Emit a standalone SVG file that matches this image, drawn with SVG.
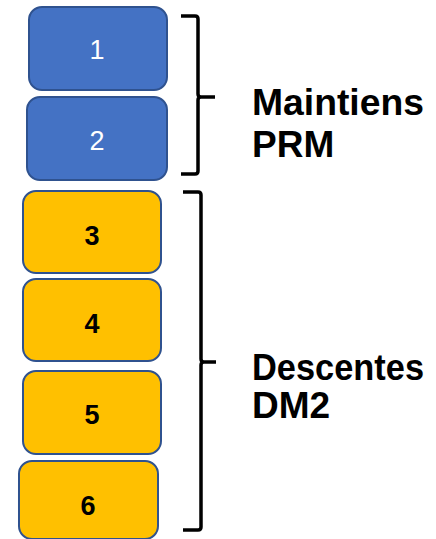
<svg xmlns="http://www.w3.org/2000/svg" width="436" height="539" viewBox="0 0 436 539">
<style>
.blue{fill:#4472C4;stroke:#2F528F;stroke-width:2}
.yel{fill:#FFC000;stroke:#2F528F;stroke-width:2}
.wt{font-family:"Liberation Sans",Arial,sans-serif;font-size:27px;fill:#fff;text-anchor:middle}
.bt{font-family:"Liberation Sans",Arial,sans-serif;font-size:27px;font-weight:bold;fill:#000;text-anchor:middle}
.lbl{font-family:"Liberation Sans",Arial,sans-serif;font-size:37px;font-weight:bold;fill:#000}
.brace{fill:none;stroke:#000;stroke-width:3.5;stroke-linejoin:round}
</style>
<rect width="436" height="539" fill="#fff"/>
<g id="n1"><rect class="blue" x="29" y="7" width="138" height="83" rx="13"/><text class="wt" x="97" y="59">1</text></g>
<g id="n2"><rect class="blue" x="27" y="97" width="140" height="83" rx="13"/><text class="wt" x="97" y="150">2</text></g>
<g id="n3"><rect class="yel" x="23" y="191" width="138" height="82" rx="13"/><text class="bt" x="92" y="245">3</text></g>
<g id="n4"><rect class="yel" x="23" y="279" width="138" height="82" rx="13"/><text class="bt" x="92" y="333">4</text></g>
<g id="n5"><rect class="yel" x="23" y="371" width="138" height="83" rx="13"/><text class="bt" x="92" y="424">5</text></g>
<g id="n6"><rect class="yel" x="19" y="461" width="139" height="78" rx="13"/><text class="bt" x="88" y="515">6</text></g>
<g id="connectors">
<path class="brace" d="M181 16 H195 Q198 16 198 19 V94 Q198 97 201 97 H215 M201 97 Q198 97 198 100 V171 Q198 174 195 174 H181"/>
<path class="brace" d="M183 192 H198 Q201 192 201 195 V359 Q201 362 204 362 H216 M204 362 Q201 362 201 365 V527 Q201 530 198 530 H183"/>
</g>
<g id="labels">
<text class="lbl" x="252" y="115" textLength="172" lengthAdjust="spacingAndGlyphs">Maintiens</text>
<text class="lbl" x="252" y="157">PRM</text>
<text class="lbl" x="252" y="380" textLength="172" lengthAdjust="spacingAndGlyphs">Descentes</text>
<text class="lbl" x="252" y="418">DM2</text>
</g>
</svg>
